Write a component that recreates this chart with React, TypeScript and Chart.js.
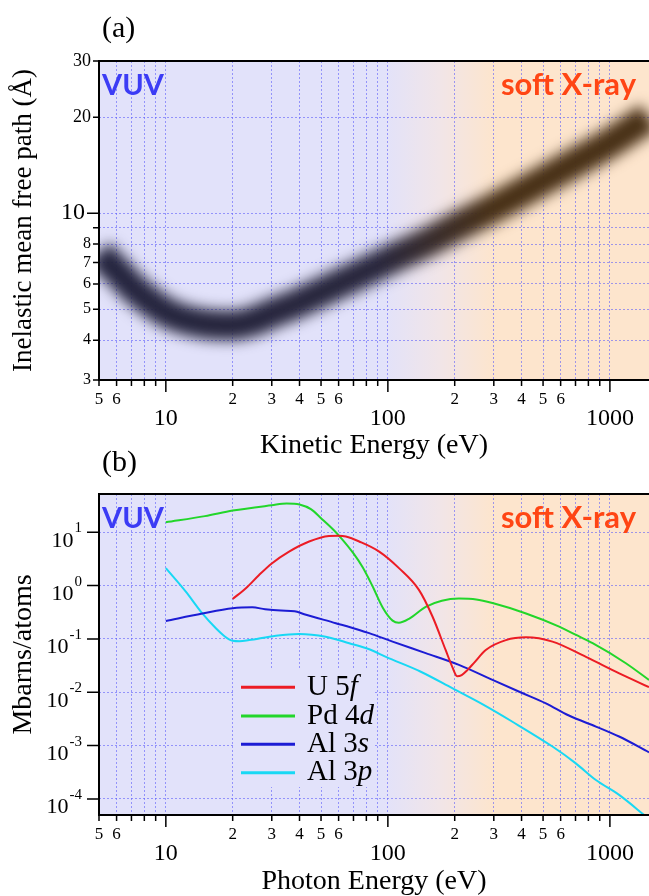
import React, { useEffect, useRef } from 'react';
import { Chart, registerables } from 'chart.js';

Chart.register(...registerables);

// ---------------- data ----------------
const X_TICKS = [5, 6, 7, 8, 9, 10, 20, 30, 40, 50, 60, 70, 80, 90, 100, 200, 300, 400, 500, 600, 700, 800, 900, 1000];
const X_MIN = 5;
const X_MAX = 1500;

// panel (a): universal curve of inelastic mean free path
const IMFP_Y_TICKS = [3, 4, 5, 6, 7, 8, 9, 10, 20, 30];
const IMFP_ENERGY = [5, 6, 7, 8, 10, 12, 15, 20, 25, 30, 40, 50, 70, 100, 150, 200, 300, 400, 600, 800, 1000, 1500];
const IMFP_PATH = [7.5, 6.6, 5.9, 5.45, 4.9, 4.65, 4.5, 4.45, 4.6, 4.85, 5.25, 5.65, 6.3, 7.1, 8.1, 9.0, 10.4, 11.6, 13.6, 15.2, 16.6, 20.0];

// panel (b): photoionization cross sections (Mbarns/atom)
const CS_Y_TICKS = [1e-4, 1e-3, 1e-2, 1e-1, 1, 10];

const U5F_ENERGY = [20, 23, 26.3, 30, 35.9, 44.2, 54.3, 60, 64.7, 74.3, 91.4, 112.5, 138, 159, 182, 195, 205, 215, 228, 245, 276, 340, 419, 551, 780, 1102, 1500];
const U5F_VALUES = [0.56, 0.9, 1.58, 2.6, 4.33, 6.7, 8.5, 8.6, 8.3, 6.7, 4.33, 2.1, 0.83, 0.26, 0.062, 0.03, 0.02, 0.021, 0.026, 0.036, 0.062, 0.095, 0.107, 0.089, 0.046, 0.0226, 0.0125];

const PD4D_ENERGY = [10, 15, 20, 30, 35, 40, 45, 50, 57, 62, 70, 77, 85, 95, 105, 112, 125, 148, 175, 209, 250, 296, 419, 591, 700, 836, 1180, 1500];
const PD4D_VALUES = [15.4, 20, 25.4, 32, 34.5, 33, 27, 18.3, 11, 7.5, 4, 2.2, 1.0, 0.38, 0.22, 0.2, 0.24, 0.4, 0.52, 0.57, 0.55, 0.47, 0.3, 0.17, 0.12, 0.083, 0.035, 0.017];

const AL3S_ENERGY = [10, 14.6, 20, 24.5, 28, 33, 38, 42, 58.3, 74.3, 82.4, 105, 148, 209, 296, 400, 515, 650, 865, 1100, 1500];
const AL3S_VALUES = [0.217, 0.3, 0.376, 0.39, 0.36, 0.34, 0.33, 0.29, 0.197, 0.147, 0.128, 0.089, 0.054, 0.0325, 0.017, 0.0098, 0.0062, 0.0037, 0.00227, 0.00148, 0.00075];

const AL3P_ENERGY = [10, 12.3, 14.6, 16.8, 18.5, 20, 21.5, 23.7, 31.3, 39.8, 52.5, 67, 82.4, 98, 140, 195, 270, 364, 551, 700, 865, 1100, 1426, 1500];
const AL3P_VALUES = [2.12, 0.77, 0.3, 0.158, 0.11, 0.092, 0.09, 0.095, 0.115, 0.124, 0.11, 0.083, 0.064, 0.046, 0.0245, 0.0119, 0.0058, 0.0028, 0.00096, 0.00047, 0.000226, 0.000119, 0.00005, 0.000042];

const SERIES = [
  { name: 'U 5', italic: 'f', energy: U5F_ENERGY, values: U5F_VALUES, color: '#ec1c24' },
  { name: 'Pd 4', italic: 'd', energy: PD4D_ENERGY, values: PD4D_VALUES, color: '#22d62a' },
  { name: 'Al 3', italic: 's', energy: AL3S_ENERGY, values: AL3S_VALUES, color: '#1c1cd4' },
  { name: 'Al 3', italic: 'p', energy: AL3P_ENERGY, values: AL3P_VALUES, color: '#18d8f4' },
];

// ---------------- styles ----------------
const SERIF = '"Liberation Serif", "Times New Roman", serif';
const SANS = 'Lato, "Open Sans", sans-serif';
const LAVENDER = 'rgb(226,226,250)';
const MID = 'rgb(241,229,232)';
const PEACH = 'rgb(253,229,205)';
const GRID = 'rgba(95,95,250,0.6)';
const W = 649;
const H1 = 470;
const H2 = 448;
const TOP2 = 448;

const isDecade = (v: number) => {
  if (!v) return false;
  const e = Math.log10(v);
  return Math.abs(e - Math.round(e)) < 1e-9;
};

const xLabel = (v: number) => {
  if (isDecade(v)) return ['', String(v)];
  const s = Math.round(v / Math.pow(10, Math.floor(Math.log10(v) + 1e-9)));
  return s <= 6 ? String(s) : '';
};

function drawBackground(chart: any) {
  const { ctx, chartArea: a, scales } = chart;
  const xs = scales.x;
  const f = (e: number) => Math.min(1, Math.max(0, (xs.getPixelForValue(e) - a.left) / (a.right - a.left)));
  const g = ctx.createLinearGradient(a.left, 0, a.right, 0);
  g.addColorStop(0, LAVENDER);
  g.addColorStop(f(95), LAVENDER);
  g.addColorStop(f(170), MID);
  g.addColorStop(f(300), PEACH);
  g.addColorStop(1, PEACH);
  ctx.save();
  ctx.fillStyle = g;
  ctx.fillRect(a.left, a.top, a.right - a.left, a.bottom - a.top);
  ctx.restore();
}

function drawFrame(chart: any) {
  const { ctx, chartArea: a, scales } = chart;
  const xs = scales.x;
  const ys = scales.y;
  ctx.save();
  ctx.strokeStyle = '#000';
  ctx.lineWidth = 1.5;
  ctx.beginPath();
  for (const t of xs.ticks) {
    const px = xs.getPixelForValue(t.value);
    const len = isDecade(t.value) ? 12 : 6;
    ctx.moveTo(px, a.bottom);
    ctx.lineTo(px, a.bottom + len);
  }
  for (const t of ys.ticks) {
    const py = ys.getPixelForValue(t.value);
    const len = isDecade(t.value) ? 12 : 6;
    ctx.moveTo(a.left, py);
    ctx.lineTo(a.left - len, py);
  }
  ctx.stroke();
  ctx.lineWidth = 2;
  ctx.beginPath();
  ctx.moveTo(a.right, a.top);
  ctx.lineTo(a.left, a.top);
  ctx.lineTo(a.left, a.bottom);
  ctx.lineTo(a.right, a.bottom);
  ctx.stroke();
  ctx.restore();
}

function drawTexts(chart: any, panel: string, yTitle: string, yTitleSize: number, xTitle: string, titleBase: number, xTitleY: number) {
  const { ctx, chartArea: a } = chart;
  ctx.save();
  ctx.fillStyle = '#000';
  ctx.font = `30px ${SERIF}`;
  ctx.textAlign = 'left';
  ctx.textBaseline = 'alphabetic';
  ctx.fillText(`(${panel})`, a.left + 3, titleBase);

  ctx.font = `bold 29px ${SANS}`;
  ctx.fillStyle = '#3c3cf5';
  ctx.fillText('VUV', a.left + 3, a.top + 34);
  ctx.font = `bold 31px ${SANS}`;
  ctx.fillStyle = '#ff4514';
  ctx.textAlign = 'right';
  ctx.fillText('soft X-ray', a.right - 13, a.top + 34);

  ctx.fillStyle = '#000';
  ctx.font = `28px ${SERIF}`;
  ctx.textAlign = 'center';
  ctx.textBaseline = 'middle';
  ctx.fillText(xTitle, (a.left + a.right) / 2, xTitleY);

  ctx.font = `${yTitleSize}px ${SERIF}`;
  ctx.translate(24, (a.top + a.bottom) / 2);
  ctx.rotate(-Math.PI / 2);
  ctx.fillText(yTitle, 0, 0);
  ctx.restore();
}

function xScale(axisHeight: number) {
  return {
    type: 'logarithmic',
    min: X_MIN,
    max: X_MAX,
    afterBuildTicks: (s: any) => {
      s.ticks = X_TICKS.map((v) => ({ value: v }));
    },
    afterFit: (s: any) => {
      s.height = axisHeight;
    },
    grid: { color: GRID, lineWidth: 1, drawTicks: false },
    border: { display: false, dash: [2, 2] },
    ticks: {
      autoSkip: false,
      maxRotation: 0,
      minRotation: 0,
      padding: 9,
      color: '#000',
      font: (c: any) =>
        c.tick && isDecade(c.tick.value)
          ? { family: SERIF, size: 24, lineHeight: 0.82 }
          : { family: SERIF, size: 17, lineHeight: 1.2 },
      callback: (v: any) => xLabel(Number(v)),
    },
  };
}

function buildIMFP(canvas: HTMLCanvasElement) {
  const deco = {
    id: 'decoA',
    beforeDraw: (chart: any) => drawBackground(chart),
    beforeDatasetDraw: (chart: any) => {
      chart.ctx.filter = 'blur(7px)';
    },
    afterDatasetDraw: (chart: any) => {
      chart.ctx.filter = 'none';
    },
    afterDraw: (chart: any) => {
      drawFrame(chart);
      drawTexts(chart, 'a', 'Inelastic mean free path (Å)', 27, 'Kinetic Energy (eV)', 37, 446);
    },
  };
  return new Chart(canvas, {
    type: 'line',
    data: {
      datasets: [
        {
          data: IMFP_ENERGY.map((e, i) => ({ x: e, y: IMFP_PATH[i] })),
          borderColor: (c: any) => {
            const ch = c.chart;
            const a = ch.chartArea;
            if (!a) return 'rgb(40,40,62)';
            const xs = ch.scales.x;
            const f = (e: number) => Math.min(1, Math.max(0, (xs.getPixelForValue(e) - a.left) / (a.right - a.left)));
            const g = ch.ctx.createLinearGradient(a.left, 0, a.right, 0);
            g.addColorStop(0, 'rgb(36,36,62)');
            g.addColorStop(f(90), 'rgb(40,38,60)');
            g.addColorStop(f(300), 'rgb(72,48,22)');
            g.addColorStop(1, 'rgb(72,48,22)');
            return g;
          },
          borderWidth: 30,
          pointRadius: 0,
          cubicInterpolationMode: 'monotone',
          clip: 0,
        } as any,
      ],
    },
    options: {
      responsive: false,
      animation: false,
      devicePixelRatio: 1,
      events: [],
      layout: { padding: { top: 61, left: 0, right: 0, bottom: 0 }, autoPadding: false },
      plugins: { legend: { display: false }, tooltip: { enabled: false }, title: { display: false } },
      scales: {
        x: xScale(H1 - 380) as any,
        y: {
          type: 'logarithmic',
          min: 3,
          max: 30,
          afterBuildTicks: (s: any) => {
            s.ticks = IMFP_Y_TICKS.map((v) => ({ value: v }));
          },
          afterFit: (s: any) => {
            s.width = 99;
          },
          grid: { color: GRID, lineWidth: 1, drawTicks: false },
          border: { display: false, dash: [2, 2] },
          ticks: {
            autoSkip: false,
            padding: 8,
            color: '#000',
            font: (c: any) => {
              const v = c.tick ? c.tick.value : 0;
              if (v === 10) return { family: SERIF, size: 24 };
              if (v >= 20) return { family: SERIF, size: 18 };
              return { family: SERIF, size: 16 };
            },
            callback: (v: any) => {
              const n = Number(v);
              if (n === 9) return '';
              if (n === 10) return '10 ';
              return String(n);
            },
          },
        } as any,
      },
    } as any,
    plugins: [deco as any],
  });
}

function buildCS(canvas: HTMLCanvasElement) {
  const deco = {
    id: 'decoB',
    beforeDraw: (chart: any) => drawBackground(chart),
    afterDraw: (chart: any) => {
      const { ctx, scales } = chart;
      // legend
      ctx.save();
      ctx.fillStyle = LAVENDER;
      ctx.fillRect(235, 222, 140, 117);
      const rows = [239.3, 268, 296.3, 324.7];
      SERIES.forEach((s, i) => {
        const y = rows[i];
        ctx.strokeStyle = s.color;
        ctx.lineWidth = 3;
        ctx.beginPath();
        ctx.moveTo(241, y);
        ctx.lineTo(295, y);
        ctx.stroke();
        ctx.fillStyle = '#000';
        ctx.textAlign = 'left';
        ctx.textBaseline = 'middle';
        ctx.font = `29px ${SERIF}`;
        ctx.fillText(s.name, 307, y);
        const w = ctx.measureText(s.name).width;
        ctx.font = `italic 29px ${SERIF}`;
        ctx.fillText(s.italic, 307 + w, y);
      });
      ctx.restore();

      drawFrame(chart);

      // y tick labels with superscript exponents
      const ys = scales.y;
      ctx.save();
      ctx.fillStyle = '#000';
      ctx.textBaseline = 'alphabetic';
      ctx.textAlign = 'left';
      for (const t of ys.ticks) {
        const py = ys.getPixelForValue(t.value);
        const exp = String(Math.round(Math.log10(t.value)));
        ctx.font = `15px ${SERIF}`;
        const we = ctx.measureText(exp).width;
        ctx.font = `22px ${SERIF}`;
        const wb = ctx.measureText('10').width;
        const x0 = 81 - we - wb;
        ctx.fillText('10', x0, py + 14.5);
        ctx.font = `15px ${SERIF}`;
        ctx.fillText(exp, x0 + wb + 1, py);
      }
      ctx.restore();

      drawTexts(chart, 'b', 'Mbarns/atoms', 28, 'Photon Energy (eV)', 23, 434);
    },
  };
  return new Chart(canvas, {
    type: 'line',
    data: {
      datasets: SERIES.map((s) => ({
        label: s.name + s.italic,
        data: s.energy.map((e, i) => ({ x: e, y: s.values[i] })),
        borderColor: s.color,
        borderWidth: 2,
        pointRadius: 0,
        cubicInterpolationMode: 'monotone',
        clip: 0,
      })) as any,
    },
    options: {
      responsive: false,
      animation: false,
      devicePixelRatio: 1,
      events: [],
      layout: { padding: { top: 46, left: 0, right: 0, bottom: 0 }, autoPadding: false },
      plugins: { legend: { display: false }, tooltip: { enabled: false }, title: { display: false } },
      scales: {
        x: xScale(H2 - 367) as any,
        y: {
          type: 'logarithmic',
          min: 5e-5,
          max: 52,
          afterBuildTicks: (s: any) => {
            s.ticks = CS_Y_TICKS.map((v) => ({ value: v }));
          },
          afterFit: (s: any) => {
            s.width = 99;
          },
          grid: { color: GRID, lineWidth: 1, drawTicks: false },
          border: { display: false, dash: [2, 2] },
          ticks: { display: false },
        } as any,
      },
    } as any,
    plugins: [deco as any],
  });
}

function ChartCanvas({ build, top, height }: { build: (c: HTMLCanvasElement) => Chart; top: number; height: number }) {
  const ref = useRef<HTMLCanvasElement | null>(null);
  useEffect(() => {
    if (!ref.current) return;
    const ch = build(ref.current);
    return () => ch.destroy();
  }, [build]);
  return (
    <canvas
      ref={ref}
      width={W}
      height={height}
      style={{ position: 'absolute', left: 0, top, display: 'block', width: W, height }}
    />
  );
}

export default function App() {
  return (
    <div style={{ position: 'absolute', left: 0, top: 0, width: W, height: 896, background: '#fff', overflow: 'hidden' }}>
      <ChartCanvas build={buildIMFP} top={0} height={H1} />
      <ChartCanvas build={buildCS} top={TOP2} height={H2} />
    </div>
  );
}
